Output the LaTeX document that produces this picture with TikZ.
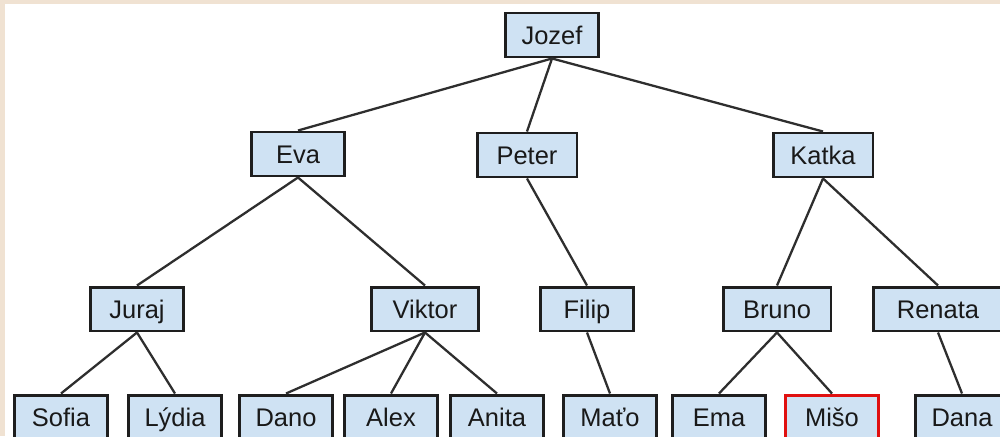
\documentclass[tikz,border=0pt]{standalone}
\usepackage{fontspec}
\setmainfont{Liberation Sans}
\definecolor{boxfill}{HTML}{CFE2F3}
\definecolor{boxline}{HTML}{1E1E1E}
\definecolor{lineclr}{HTML}{2E2E2E}
\definecolor{frameclr}{HTML}{F0E2D2}
\definecolor{marked}{HTML}{E01010}
\tikzset{
  person/.style = {draw = boxline, line width = 1.7pt, fill = boxfill, rectangle,
                   minimum width = 1.86cm, minimum height = 0.88cm, inner sep = 0pt,
                   text height = 13pt, text depth = 2.6pt,
                   font = \fontsize{14.5}{17}\selectfont, text = black!90},
  link/.style   = {draw = lineclr, line width = 1.3pt}
}
\begin{document}
\begin{tikzpicture}[x = 0.02cm, y = -0.02cm]
  \useasboundingbox (0,0) rectangle (1000,436);
  % frame of the page
  \fill[frameclr] (0,0) rectangle (1000,436);
  \fill[white] (5,4) rectangle (1000,436);

  % generation 1
  \node[person] at (552, 35)  (jozef) {Jozef};

  % generation 2
  \node[person] at (298,154)  (eva)   {Eva};
  \node[person, minimum width = 2.0cm] at (527,155)  (peter) {Peter};
  \node[person, minimum width = 2.0cm] at (823,155)  (katka) {Katka};

  % generation 3
  \node[person] at (137,309)  (juraj)  {Juraj};
  \node[person, minimum width = 2.14cm] at (425,309) (viktor) {Viktor};
  \node[person] at (587,309)  (filip)  {Filip};
  \node[person, minimum width = 2.16cm] at (777,309) (bruno)  {Bruno};
  \node[person, minimum width = 2.6cm]  at (938,309) (renata) {Renata};

  % generation 4
  \node[person] at ( 61,417)  (sofia) {Sofia};
  \node[person] at (175,417)  (lydia) {Lýdia};
  \node[person] at (286,417)  (dano)  {Dano};
  \node[person] at (391,417)  (alex)  {Alex};
  \node[person] at (497,417)  (anita) {Anita};
  \node[person] at (610,417)  (mato)  {Maťo};
  \node[person] at (719,417)  (ema)   {Ema};
  \node[person, draw = marked] at (832,417) (miso) {Mišo};
  \node[person] at (962,417)  (dana)  {Dana};

  % links
  \draw[link] (jozef.south)  -- (eva.north);
  \draw[link] (jozef.south)  -- (peter.north);
  \draw[link] (jozef.south)  -- (katka.north);
  \draw[link] (eva.south)    -- (juraj.north);
  \draw[link] (eva.south)    -- (viktor.north);
  \draw[link] (peter.south)  -- (filip.north);
  \draw[link] (katka.south)  -- (bruno.north);
  \draw[link] (katka.south)  -- (renata.north);
  \draw[link] (juraj.south)  -- (sofia.north);
  \draw[link] (juraj.south)  -- (lydia.north);
  \draw[link] (viktor.south) -- (dano.north);
  \draw[link] (viktor.south) -- (alex.north);
  \draw[link] (viktor.south) -- (anita.north);
  \draw[link] (filip.south)  -- (mato.north);
  \draw[link] (bruno.south)  -- (ema.north);
  \draw[link] (bruno.south)  -- (miso.north);
  \draw[link] (renata.south) -- (dana.north);
\end{tikzpicture}
\end{document}
